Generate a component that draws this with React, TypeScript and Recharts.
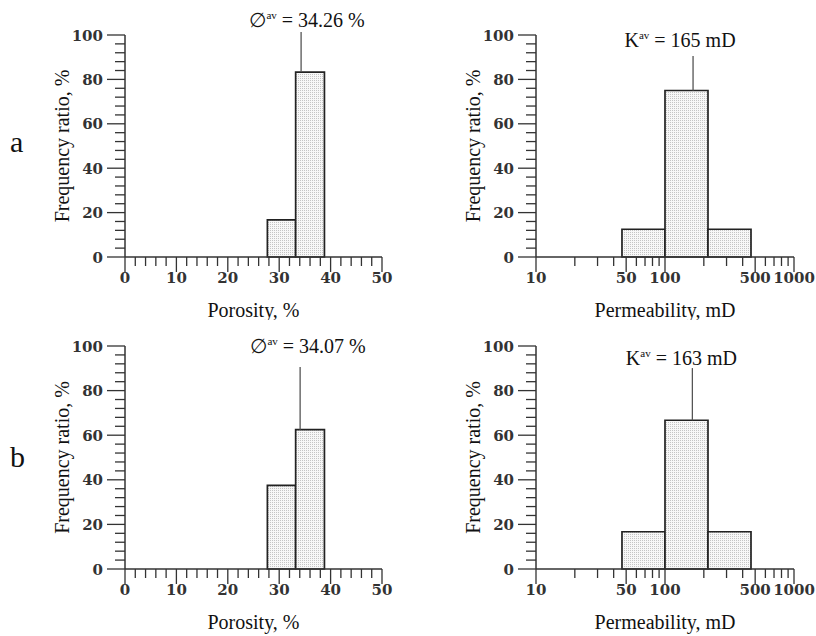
import React from 'react';
import { ComposedChart, XAxis, YAxis, ReferenceArea, ReferenceLine } from 'recharts';

// ---------- data ----------
const porosityBinEdges = [27.7, 33.2, 38.8];
const porosityFreqA = [16.7, 83.3];
const porosityFreqB = [37.5, 62.5];
const porosityAvgA = 34.26;
const porosityAvgB = 34.07;

const permBinEdges = [46.4, 100, 215.4, 464.2];
const permFreqA = [12.5, 75, 12.5];
const permFreqB = [16.7, 66.7, 16.7];
const permAvgA = 165;
const permAvgB = 163;

const porosityTicks = [0, 2, 4, 6, 8, 10, 12, 14, 16, 18, 20, 22, 24, 26, 28, 30, 32, 34, 36, 38, 40, 42, 44, 46, 48, 50];
const porosityTickLabels = [0, 10, 20, 30, 40, 50];
const permTicks = [10, 20, 30, 40, 50, 60, 70, 80, 90, 100, 200, 300, 400, 500, 600, 700, 800, 900, 1000];
const permTickLabels = [10, 50, 100, 500, 1000];
const freqTicks = [0, 4, 8, 12, 16, 20, 24, 28, 32, 36, 40, 44, 48, 52, 56, 60, 64, 68, 72, 76, 80, 84, 88, 92, 96, 100];
const freqTickLabels = [0, 20, 40, 60, 80, 100];

// ---------- styles ----------
const FONT_NUM = '"DejaVu Serif", serif';
const FONT_TEXT = '"Liberation Serif", "Times New Roman", serif';
const AXIS_COLOR = '#333';

function XTick(props: any) {
  const { x, y, payload, labels } = props;
  const v = payload.value;
  const major = labels.includes(v);
  return (
    <g>
      <line x1={x} x2={x} y1={y} y2={y + (major ? 15 : 9)} stroke={AXIS_COLOR} strokeWidth={1.3} />
      {major && (
        <text x={x} y={y + 26} textAnchor="middle" fontFamily={FONT_NUM} fontWeight="bold" fontSize={15} fill="#333">
          {v}
        </text>
      )}
    </g>
  );
}

function YTick(props: any) {
  const { x, y, payload, labels } = props;
  const v = payload.value;
  const major = labels.includes(v);
  return (
    <g>
      <line x1={x - (major ? 18 : 10)} x2={x} y1={y} y2={y} stroke={AXIS_COLOR} strokeWidth={1.3} />
      {major && (
        <text x={x - 22} y={y + 5.5} textAnchor="end" fontFamily={FONT_NUM} fontWeight="bold" fontSize={15} fill="#333">
          {v}
        </text>
      )}
    </g>
  );
}

type PanelProps = {
  id: string;
  left: number;
  top: number;
  width: number;
  height: number;
  margin: { top: number; right: number; bottom: number; left: number };
  log: boolean;
  edges: number[];
  freqs: number[];
  avg: number;
  lineTop: number;
  symbol: string;
  rest: string;
  labelDx: number;
  labelGap: number;
  xTitle: string;
};

function Panel(p: PanelProps) {
  const data = p.freqs.map((f, i) => ({ x0: p.edges[i], x1: p.edges[i + 1], f }));
  const patId = `dots-${p.id}`;
  return (
    <div style={{ position: 'absolute', left: p.left, top: p.top, width: p.width, height: p.height }}>
      <ComposedChart width={p.width} height={p.height} data={data} margin={p.margin}>
        <defs>
          <pattern id={patId} width={2} height={2} patternUnits="userSpaceOnUse">
            <rect x={0} y={0} width={2} height={2} fill="#f7f7f7" />
            <rect x={0} y={0} width={1} height={1} fill="#c4c4c4" />
          </pattern>
        </defs>
        <XAxis
          type="number"
          dataKey="x0"
          scale={p.log ? 'log' : 'linear'}
          domain={p.log ? [10, 1000] : [0, 50]}
          allowDataOverflow
          ticks={p.log ? permTicks : porosityTicks}
          interval={0}
          height={30}
          tickSize={0}
          tickMargin={0}
          tickLine={false}
          axisLine={{ stroke: AXIS_COLOR, strokeWidth: 1.5 }}
          tick={<XTick labels={p.log ? permTickLabels : porosityTickLabels} />}
          label={(lp: any) => {
            const vb = lp.viewBox;
            return (
              <text x={vb.x + vb.width / 2} y={vb.y + 60} textAnchor="middle" fontFamily={FONT_TEXT} fontSize={20} fill="#111">
                {p.xTitle}
              </text>
            );
          }}
        />
        <YAxis
          type="number"
          domain={[0, 100]}
          allowDataOverflow
          ticks={freqTicks}
          interval={0}
          width={60}
          tickSize={0}
          tickMargin={0}
          tickLine={false}
          axisLine={{ stroke: AXIS_COLOR, strokeWidth: 1.5 }}
          tick={<YTick labels={freqTickLabels} />}
          label={(lp: any) => {
            const vb = lp.viewBox;
            const cx = vb.x + vb.width - 63;
            const cy = vb.y + vb.height / 2;
            return (
              <text
                x={cx}
                y={cy}
                transform={`rotate(-90 ${cx} ${cy})`}
                textAnchor="middle"
                dominantBaseline="central"
                fontFamily={FONT_TEXT}
                fontSize={20}
                fill="#111"
              >
                Frequency ratio, %
              </text>
            );
          }}
        />
        {data.map((d, i) => (
          <ReferenceArea
            key={i}
            x1={d.x0}
            x2={d.x1}
            y1={0}
            y2={d.f}
            fill={`url(#${patId})`}
            fillOpacity={1}
            stroke="#222"
            strokeWidth={1.7}
            ifOverflow="visible"
          />
        ))}
        <ReferenceLine
          segment={[
            { x: p.avg, y: Math.max(...p.freqs.filter((_, i) => p.edges[i] <= p.avg && p.edges[i + 1] >= p.avg)) },
            { x: p.avg, y: p.lineTop },
          ]}
          stroke="#555"
          strokeWidth={1.3}
          ifOverflow="visible"
          label={(lp: any) => {
            const vb = lp.viewBox;
            return (
              <text
                x={vb.x + p.labelDx}
                y={vb.y - p.labelGap}
                textAnchor="middle"
                fontFamily={FONT_TEXT}
                fontSize={20}
                fill="#111"
              >
                <tspan>{p.symbol}</tspan>
                <tspan fontSize={11} dy={-8}>av</tspan>
                <tspan dy={8}>{p.rest}</tspan>
              </text>
            );
          }}
        />
      </ComposedChart>
    </div>
  );
}

export default function App() {
  return (
    <div style={{ position: 'absolute', left: 0, top: 0, width: 816, height: 636, background: '#fff' }}>
      <svg width={816} height={636} style={{ position: 'absolute', left: 0, top: 0 }}>
        <text x={10} y={152} fontFamily={FONT_TEXT} fontSize={30} fill="#111">a</text>
        <text x={10} y={467} fontFamily={FONT_TEXT} fontSize={30} fill="#111">b</text>
      </svg>
      <Panel
        id="ta"
        left={0}
        top={0}
        width={408}
        height={320}
        margin={{ top: 35, right: 26, bottom: 33, left: 65 }}
        log={false}
        edges={porosityBinEdges}
        freqs={porosityFreqA}
        avg={porosityAvgA}
        lineTop={101.4}
        symbol="∅"
        rest={` = ${porosityAvgA} %`}
        labelDx={6}
        labelGap={5}
        xTitle="Porosity, %"
      />
      <Panel
        id="tb"
        left={408}
        top={0}
        width={408}
        height={320}
        margin={{ top: 35, right: 22, bottom: 33, left: 68 }}
        log={true}
        edges={permBinEdges}
        freqs={permFreqA}
        avg={permAvgA}
        lineTop={90.5}
        symbol="K"
        rest={` = ${permAvgA} mD`}
        labelDx={-13}
        labelGap={9}
        xTitle="Permeability, mD"
      />
      <Panel
        id="ba"
        left={0}
        top={320}
        width={408}
        height={316}
        margin={{ top: 26, right: 26, bottom: 37, left: 65 }}
        log={false}
        edges={porosityBinEdges}
        freqs={porosityFreqB}
        avg={porosityAvgB}
        lineTop={90.6}
        symbol="∅"
        rest={` = ${porosityAvgB} %`}
        labelDx={8}
        labelGap={14}
        xTitle="Porosity, %"
      />
      <Panel
        id="bb"
        left={408}
        top={320}
        width={408}
        height={316}
        margin={{ top: 26, right: 22, bottom: 37, left: 68 }}
        log={true}
        edges={permBinEdges}
        freqs={permFreqB}
        avg={permAvgB}
        lineTop={90.1}
        symbol="K"
        rest={` = ${permAvgB} mD`}
        labelDx={-11}
        labelGap={3}
        xTitle="Permeability, mD"
      />
    </div>
  );
}
